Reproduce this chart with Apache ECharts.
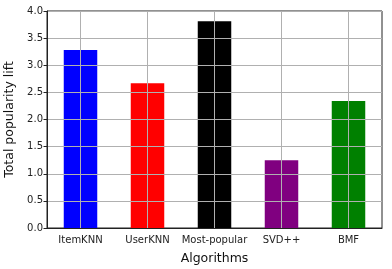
<!DOCTYPE html>
<html><head><meta charset="utf-8">
<script src="https://cdn.jsdelivr.net/npm/echarts@6/dist/echarts.min.js"></script>
<style>html,body{margin:0;padding:0;background:#fff}#c{width:392px;height:269px}</style>
</head><body><div id="c"></div>
<script>
var categories = ['ItemKNN', 'UserKNN', 'Most-popular', 'SVD++', 'BMF'];
var values = [3.28, 2.67, 3.81, 1.25, 2.34];
var colors = ['#0000ff', '#ff0000', '#000000', '#800080', '#008000'];
var yTicks = [0, 0.5, 1, 1.5, 2, 2.5, 3, 3.5, 4];

var chart = echarts.init(document.getElementById('c'));
var font = 'DejaVu Sans';
chart.setOption({
  animation: false,
  grid: {left: 47, top: 11, right: 10, bottom: 41, show: true, borderColor: '#222', borderWidth: 1, backgroundColor: 'transparent', containLabel: false, outerBoundsMode: 'none'},
  xAxis: {
    type: 'category', data: categories, z: 11,
    name: 'Algorithms', nameLocation: 'middle', nameGap: 24,
    nameTextStyle: {fontFamily: font, fontSize: 12.5, color: '#111'},
    axisLine: {lineStyle: {color: '#222', width: 1}},
    axisTick: {alignWithLabel: true, length: 3.5, lineStyle: {color: '#222'}},
    axisLabel: {fontFamily: font, fontSize: 10, color: '#222', margin: 7, interval: 0},
    splitLine: {show: false}
  },
  yAxis: {
    type: 'value', min: 0, max: 4, interval: 0.5, z: 10,
    name: 'Total popularity lift', nameLocation: 'middle', nameGap: 28,
    nameTextStyle: {fontFamily: font, fontSize: 12.5, color: '#111'},
    axisLine: {show: true, lineStyle: {color: '#222', width: 1}},
    axisTick: {show: true, length: 3.5, lineStyle: {color: '#222'}},
    axisLabel: {fontFamily: font, fontSize: 10, color: '#222', margin: 4, formatter: function(v){return v.toFixed(1);}},
    splitLine: {show: true, lineStyle: {color: '#b0b0b0', width: 1}}
  },
  series: [{
    type: 'bar', barWidth: '50%',
    data: values.map(function(v, i){ return {value: v, itemStyle: {color: colors[i]}}; }),
    markLine: {
      silent: true, symbol: 'none', z: 9, label: {show: false},
      lineStyle: {color: '#b0b0b0', width: 1, type: 'solid'},
      data: categories.map(function(c){ return {xAxis: c}; })
    }
  }]
});
</script></body></html>
